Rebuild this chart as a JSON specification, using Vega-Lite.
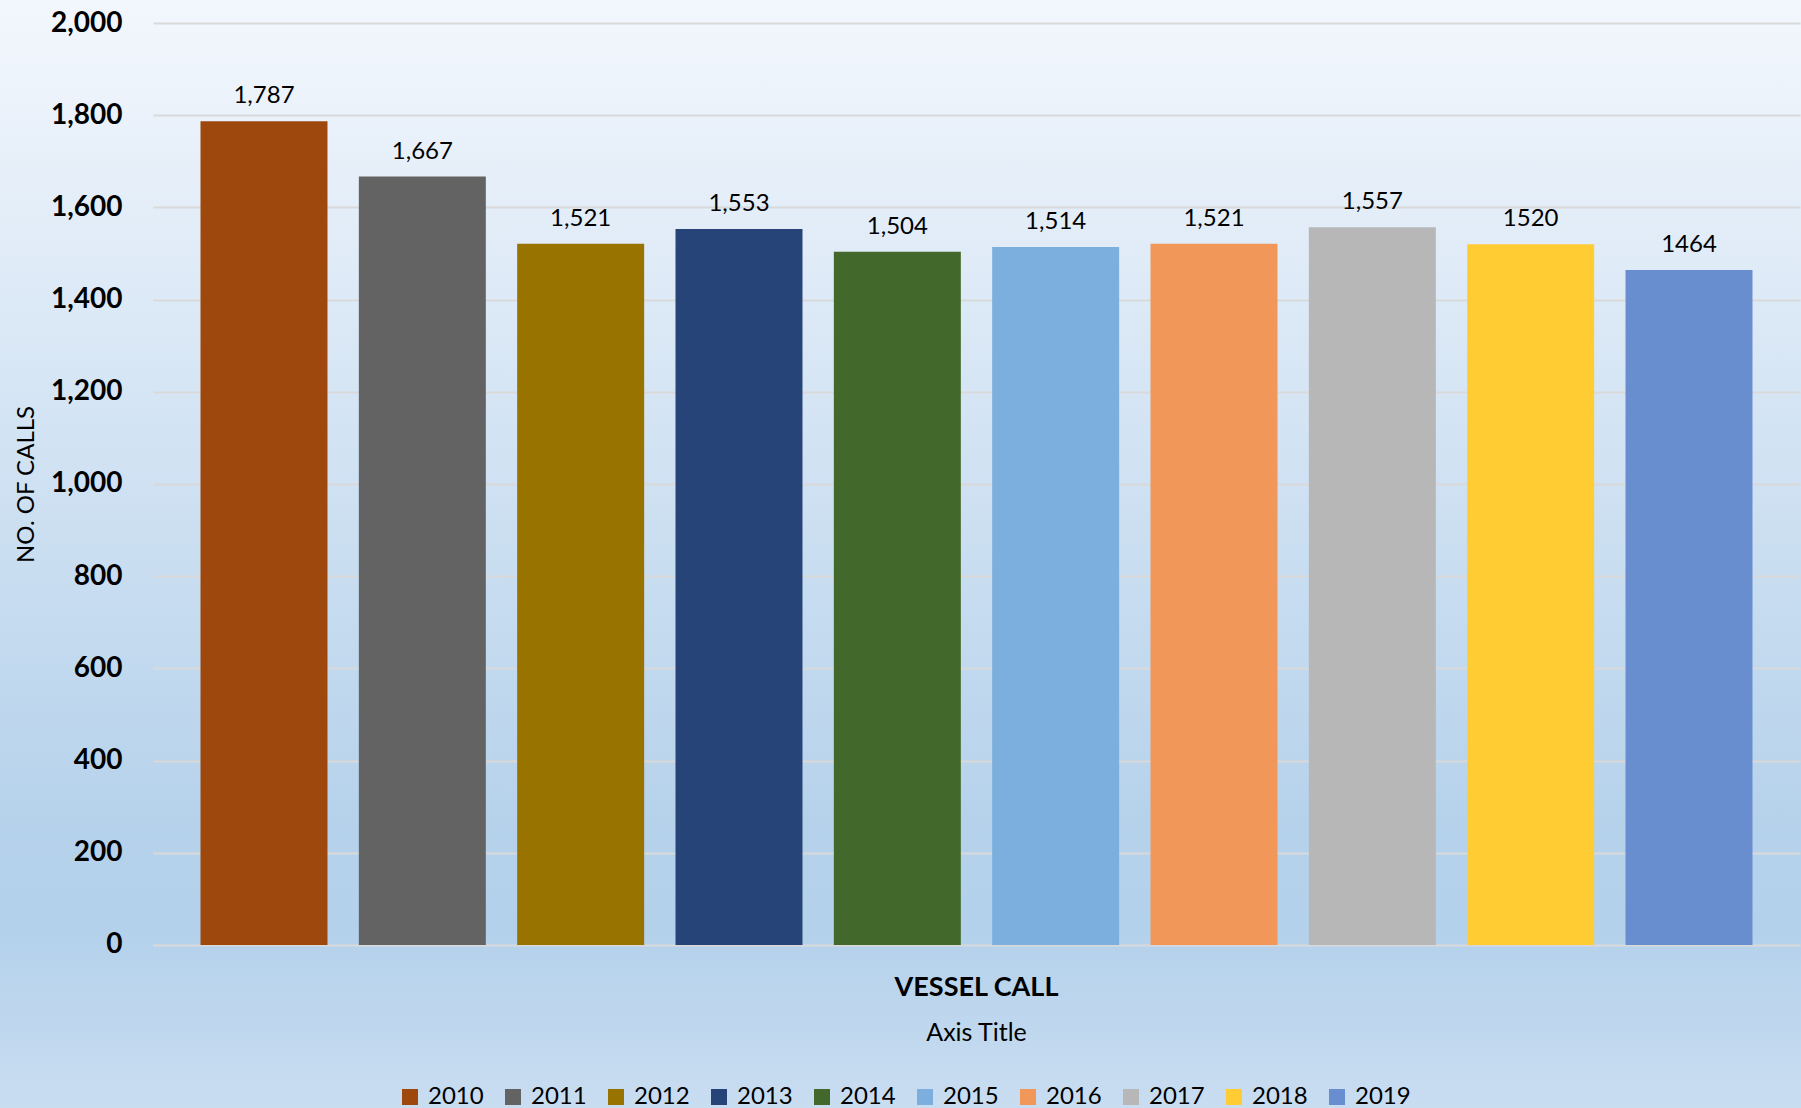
{
  "$schema": "https://vega.github.io/schema/vega-lite/v6.json",
  "width": 1801,
  "height": 1108,
  "autosize": {"type": "none"},
  "padding": 0,
  "background": "#d3e4f4",
  "config": {
    "font": "Lato",
    "view": {
      "stroke": null,
      "fill": {
        "gradient": "linear",
        "x1": 0, "y1": 0, "x2": 0, "y2": 1,
        "stops": [
          {"offset": 0, "color": "#f3f7fd"},
          {"offset": 0.74, "color": "#b6d2eb"},
          {"offset": 0.84, "color": "#b4d1eb"},
          {"offset": 1, "color": "#c9ddf1"}
        ]
      }
    }
  },
  "data": {
    "values": [
      {"category": "VESSEL CALL", "year": "2010", "calls": 1787, "label": "1,787"},
      {"category": "VESSEL CALL", "year": "2011", "calls": 1667, "label": "1,667"},
      {"category": "VESSEL CALL", "year": "2012", "calls": 1521, "label": "1,521"},
      {"category": "VESSEL CALL", "year": "2013", "calls": 1553, "label": "1,553"},
      {"category": "VESSEL CALL", "year": "2014", "calls": 1504, "label": "1,504"},
      {"category": "VESSEL CALL", "year": "2015", "calls": 1514, "label": "1,514"},
      {"category": "VESSEL CALL", "year": "2016", "calls": 1521, "label": "1,521"},
      {"category": "VESSEL CALL", "year": "2017", "calls": 1557, "label": "1,557"},
      {"category": "VESSEL CALL", "year": "2018", "calls": 1520, "label": "1520"},
      {"category": "VESSEL CALL", "year": "2019", "calls": 1464, "label": "1464"}
    ]
  },
  "encoding": {
    "x": {
      "field": "category",
      "type": "nominal",
      "scale": {"paddingInner": 0, "paddingOuter": 0, "range": [153, 1800]},
      "axis": {
        "offset": -163,
        "title": "Axis Title",
        "titleFontSize": 25,
        "titleFontWeight": "normal",
        "titleColor": "#000000",
        "titleX": 976,
        "titleY": 87,
        "titleAlign": "center",
        "titleBaseline": "middle",
        "labelFontSize": 27,
        "labelFontWeight": "bold",
        "labelColor": "#000000",
        "labelAngle": 0,
        "labelPadding": 42,
        "labelBaseline": "middle",
        "ticks": false,
        "domain": false,
        "grid": false
      }
    },
    "xOffset": {
      "field": "year",
      "type": "nominal",
      "scale": {"paddingInner": 0.198, "paddingOuter": 0.3}
    },
    "y": {
      "field": "calls",
      "type": "quantitative",
      "scale": {"domain": [-353.6, 2049.9], "nice": false, "zero": true},
      "axis": {
        "offset": -153,
        "title": "NO. OF CALLS",
        "titleFontSize": 24,
        "titleFontWeight": "normal",
        "titleColor": "#000000",
        "titleX": -127,
        "titleY": 484,
        "titleAngle": -90,
        "titleAlign": "center",
        "titleBaseline": "middle",
        "labelFontSize": 28,
        "labelFontWeight": "bold",
        "labelColor": "#000000",
        "labelPadding": 31,
        "values": [0, 200, 400, 600, 800, 1000, 1200, 1400, 1600, 1800, 2000],
        "format": ",.0f",
        "ticks": false,
        "domain": false,
        "gridColor": "#d9d9d9",
        "gridWidth": 2
      }
    }
  },
  "layer": [
    {
      "mark": {"type": "bar"},
      "encoding": {
        "color": {
          "field": "year",
          "type": "nominal",
          "scale": {
            "domain": ["2010", "2011", "2012", "2013", "2014", "2015", "2016", "2017", "2018", "2019"],
            "range": ["#9e480e", "#636363", "#997300", "#264478", "#43682b", "#7cafdd", "#f1975a", "#b7b7b7", "#ffcd33", "#698ed0"]
          },
          "legend": {
            "orient": "none",
            "legendX": 398,
            "legendY": 1085,
            "direction": "horizontal",
            "columns": 10,
            "title": null,
            "symbolType": "square",
            "symbolSize": 256,
            "symbolStrokeWidth": 0,
            "labelFontSize": 24,
            "labelOffset": 6,
            "columnPadding": 17,
            "labelColor": "#000000"
          }
        }
      }
    },
    {
      "mark": {"type": "text", "baseline": "alphabetic", "dy": -18, "fontSize": 24, "color": "#000000"},
      "encoding": {"text": {"field": "label"}}
    }
  ]
}
